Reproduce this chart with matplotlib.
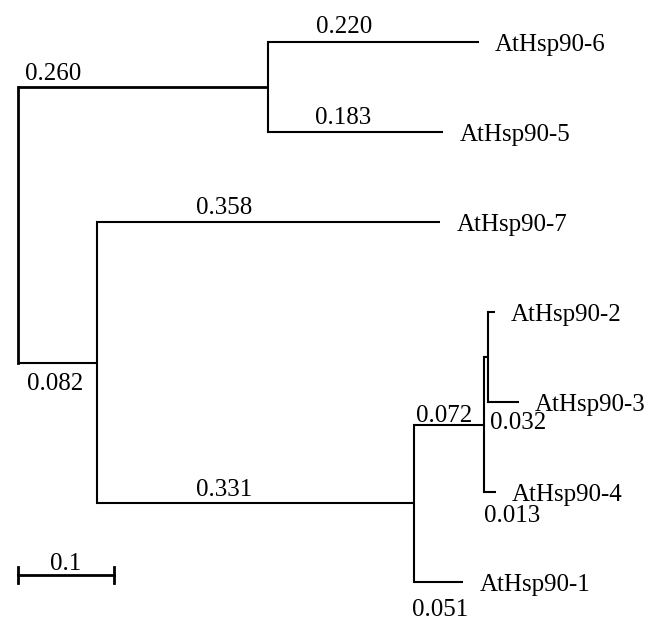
import matplotlib.pyplot as plt

# tree, listed depth-first so children keep their top-to-bottom order
nodes = ["root", "n1", "AtHsp90-6", "AtHsp90-5", "n2", "AtHsp90-7", "n3",
         "n4", "n5", "AtHsp90-2", "AtHsp90-3", "AtHsp90-4", "AtHsp90-1"]
parents = [None, "root", "n1", "n1", "root", "n2", "n2",
           "n3", "n4", "n5", "n5", "n4", "n3"]
lengths = [0.0, 0.260, 0.220, 0.183, 0.082, 0.358, 0.331,
           0.072, 0.005, 0.007, 0.032, 0.013, 0.051]
length_text = ["", "0.260", "0.220", "0.183", "0.082", "0.358", "0.331",
               "0.072", "", "", "0.032", "0.013", "0.051"]
scale_len = 0.1

# where each branch-length label sits:
# (fraction along branch for text centre, baseline offset in px, + is down)
label_place = {
    "n1": (0.14, -7), "AtHsp90-6": (0.36, -9), "AtHsp90-5": (0.43, -8),
    "n2": (0.47, 27), "AtHsp90-7": (0.37, -8), "n3": (0.40, -7),
    "n4": (0.43, -3), "AtHsp90-3": (0.97, 27), "AtHsp90-4": (2.3, 30),
    "AtHsp90-1": (0.53, 34),
}

PX_X = 960.0   # pixels per unit branch length
PX_Y = 90.0    # pixels between leaves
FS = 18

plt.rcParams['font.family'] = ['Liberation Serif', 'DejaVu Serif']
fig = plt.figure(figsize=(6.49, 6.22), dpi=100)
ax = fig.add_axes([0, 0, 1, 1])
ax.set_xlim(-18 / PX_X, (649 - 18) / PX_X)
ax.set_ylim((622 - 42) / PX_Y, -42 / PX_Y)
ax.axis('off')

children = {n: [c for c, p in zip(nodes, parents) if p == n] for n in nodes}
blen = dict(zip(nodes, lengths))
par = dict(zip(nodes, parents))

# x positions from root, y positions: leaves in order, internal = midpoint
xpos, ypos = {}, {}
for n in nodes:
    xpos[n] = 0.0 if par[n] is None else xpos[par[n]] + blen[n]
leaf_i = 0
for n in nodes:
    if not children[n]:
        ypos[n] = leaf_i
        leaf_i += 1

def set_y(n):
    if n in ypos:
        return ypos[n]
    ys = [set_y(c) for c in children[n]]
    ypos[n] = (ys[0] + ys[-1]) / 2
    return ypos[n]

set_y("root")

lw = 1.5
for n in nodes:
    kids = children[n]
    w = 2.0 if n in ("root", "n1") else lw
    if kids:
        ax.plot([xpos[n], xpos[n]], [ypos[kids[0]], ypos[kids[-1]]],
                color='black', lw=2.0 if n == "root" else lw,
                solid_capstyle='projecting')
    if par[n] is None:
        continue
    ax.plot([xpos[par[n]], xpos[n]], [ypos[n], ypos[n]],
            color='black', lw=w, solid_capstyle='butt')
    if not kids:
        ax.text(xpos[n] + 16 / PX_X, ypos[n] + 9 / PX_Y, n, ha='left',
                va='baseline', fontsize=FS)

for n, txt in zip(nodes, length_text):
    if not txt:
        continue
    frac, dy = label_place[n]
    x0 = xpos[par[n]]
    ax.text(x0 + frac * blen[n], ypos[n] + dy / PX_Y, txt,
            ha='center', va='baseline', fontsize=FS)

# scale bar
sy = (575 - 42) / PX_Y
tick = 8 / PX_Y
ax.plot([0, scale_len], [sy, sy], color='black', lw=2.0)
ax.plot([0, 0], [sy - tick, sy + tick], color='black', lw=2.0)
ax.plot([scale_len, scale_len], [sy - tick, sy + tick], color='black', lw=2.0)
ax.text(scale_len / 2, sy - 5 / PX_Y, str(scale_len), ha='center',
        va='baseline', fontsize=FS)

plt.savefig("out.png", dpi=100)
